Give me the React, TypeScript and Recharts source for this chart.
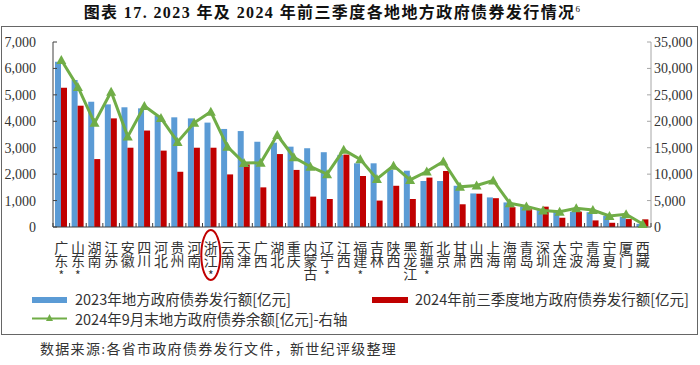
import React from 'react'
import { ComposedChart, Bar, Line, XAxis, YAxis } from 'recharts'

const PROVINCES = [
  '广东', '山东', '湖南', '江苏', '安徽', '四川', '河北', '贵州', '河南', '浙江',
  '云南', '天津', '广西', '湖北', '重庆', '内蒙古', '辽宁', '江西', '福建', '吉林',
  '陕西', '黑龙江', '新疆', '北京', '甘肃', '山西', '上海', '海南', '青岛', '深圳',
  '大连', '宁波', '青海', '宁夏', '厦门', '西藏',
]
// provinces marked with * under the label
const STARRED = ['广东', '山东', '浙江', '辽宁', '福建', '新疆']

// 2023 issuance, 亿元 (left axis)
const ISSUE_2023 = [
  6250, 5560, 4740, 4640, 4530, 4490, 4210, 4150, 4110, 3950,
  3710, 3630, 3230, 3190, 3040, 2980, 2830, 2730, 2410, 2410,
  2160, 2130, 1740, 1740, 1560, 1270, 1120, 930, 770, 640,
  580, 580, 560, 420, 390, 120,
]
// 2024 Q1-Q3 issuance, 亿元 (left axis)
const ISSUE_2024Q3 = [
  5270, 4590, 2570, 4110, 3000, 3650, 2890, 2090, 3000, 3000,
  1990, 2370, 1500, 2760, 2160, 1150, 1060, 2740, 1930, 1000,
  1560, 1060, 1870, 2120, 860, 1260, 1090, 750, 670, 770,
  350, 580, 250, 160, 300, 290,
]
// balance at end of Sep 2024, 亿元 (right axis)
const BALANCE_SEP24 = [
  31600, 26500, 19700, 25600, 17100, 22900, 20600, 16100, 19700, 21800,
  15200, 12100, 12150, 17400, 13200, 11400, 10000, 14600, 12800, 9100,
  11600, 8900, 10500, 12400, 7600, 7850, 8800, 4480, 3900, 3100,
  2900, 3540, 3220, 2100, 2400, 570,
]

const LEFT_TICKS = [0, 1000, 2000, 3000, 4000, 5000, 6000, 7000]
const RIGHT_TICKS = [0, 5000, 10000, 15000, 20000, 25000, 30000, 35000]

const rows = PROVINCES.map((name, i) => ({
  name,
  y2023: ISSUE_2023[i],
  y2024: ISSUE_2024Q3[i],
  balance: BALANCE_SEP24[i],
}))

const BLUE = '#5B9BD5'
const RED = '#C00000'
const GREEN = '#70AD47'
const TEXT = '#333333'
const SERIF = '"Liberation Serif", "Times New Roman", "Noto Sans CJK SC", serif'
const SANS = '"Noto Sans CJK SC", "Noto Sans", sans-serif'

const fmt = (v: number) => v.toLocaleString('en-US')

// plot runs x 53..651 with 36 categories
const BAND = 598 / PROVINCES.length

// labels are written top-to-bottom, one character per row
function ProvinceTick({ x, y, payload, index }: any) {
  const name = payload.value as string
  const starred = STARRED.includes(name)
  return (
    <g>
      <line x1={x - BAND / 2} x2={x - BAND / 2} y1={y} y2={y - 4} stroke="#404040" />
      {index === PROVINCES.length - 1 && (
        <line x1={x + BAND / 2} x2={x + BAND / 2} y1={y} y2={y - 4} stroke="#404040" />
      )}
      <text
        x={x}
        y={y + 14}
        fontFamily={SANS}
        fontSize={14}
        fill={TEXT}
        style={{ writingMode: 'vertical-rl', textOrientation: 'upright', letterSpacing: -1 }}
      >
        {name}
        {starred && <tspan fontSize={12} dy={2}>*</tspan>}
      </text>
      {name === '浙江' && (
        <ellipse cx={x} cy={y + 28} rx={9.5} ry={25} fill="none" stroke={RED} strokeWidth={2} />
      )}
    </g>
  )
}

function TriangleDot({ cx, cy, index }: any) {
  if (cx == null || cy == null) return <g key={index} />
  return (
    <polygon
      key={index}
      points={`${cx},${cy - 5} ${cx - 5},${cy + 4} ${cx + 5},${cy + 4}`}
      fill={GREEN}
    />
  )
}

const legendText: React.CSSProperties = {
  position: 'absolute',
  fontFamily: SANS,
  fontSize: 14.5,
  color: TEXT,
  lineHeight: '18px',
  whiteSpace: 'nowrap',
}

export default function App() {
  return (
    <div style={{ position: 'absolute', left: 0, top: 0, width: 700, height: 365, background: '#fff' }}>
      {/* title */}
      <div
        style={{
          position: 'absolute', left: 0, top: 0, width: 665, textAlign: 'center',
          fontFamily: SERIF, fontWeight: 'bold', fontSize: 16, letterSpacing: 1.4,
          lineHeight: '19px', color: '#111',
        }}
      >
        图表 17. 2023 年及 2024 年前三季度各地地方政府债券发行情况<sup style={{ fontSize: 9, fontWeight: 'normal' }}>6</sup>
      </div>

      {/* frame */}
      <div style={{ position: 'absolute', left: 1, top: 26, width: 695, height: 307, border: '1px solid #666' }} />

      <div style={{ position: 'absolute', left: 0, top: 0 }}>
        <ComposedChart
          width={700}
          height={300}
          data={rows}
          margin={{ top: 42, right: 0, bottom: 0, left: 0 }}
          barGap={0}
        >
          <XAxis
            dataKey="name"
            interval={0}
            height={73}
            tickSize={0}
            tickMargin={0}
            tickLine={false}
            axisLine={{ stroke: '#404040' }}
            tick={<ProvinceTick />}
          />
          <YAxis
            yAxisId="left"
            width={53}
            domain={[0, 7000]}
            ticks={LEFT_TICKS}
            tickFormatter={fmt}
            tickSize={-4}
            tickMargin={21}
            axisLine={{ stroke: '#404040' }}
            tickLine={{ stroke: '#404040' }}
            tick={{ fontSize: 14, fontFamily: SERIF, fill: TEXT }}
          />
          <YAxis
            yAxisId="right"
            orientation="right"
            width={49}
            domain={[0, 35000]}
            ticks={RIGHT_TICKS}
            tickFormatter={fmt}
            tickSize={-4}
            tickMargin={7}
            axisLine={{ stroke: '#a6a6a6' }}
            tickLine={{ stroke: '#a6a6a6' }}
            tick={{ fontSize: 14, fontFamily: SERIF, fill: TEXT, textAnchor: 'start' }}
          />
          <Bar yAxisId="left" dataKey="y2023" fill={BLUE} barSize={6} isAnimationActive={false} />
          <Bar yAxisId="left" dataKey="y2024" fill={RED} barSize={6} isAnimationActive={false} />
          <Line
            yAxisId="right"
            dataKey="balance"
            stroke={GREEN}
            strokeWidth={3}
            dot={<TriangleDot />}
            activeDot={false}
            isAnimationActive={false}
          />
        </ComposedChart>
      </div>

      {/* legend */}
      <div style={{ position: 'absolute', left: 32, top: 297, width: 35, height: 6, background: BLUE }} />
      <div style={{ ...legendText, left: 75, top: 290 }}>2023年地方政府债券发行额[亿元]</div>
      <div style={{ position: 'absolute', left: 372, top: 297, width: 36, height: 6, background: RED }} />
      <div style={{ ...legendText, left: 415, top: 290 }}>2024年前三季度地方政府债券发行额[亿元]</div>
      <svg style={{ position: 'absolute', left: 30, top: 312 }} width={40} height={12}>
        <line x1={2} x2={37} y1={6.5} y2={6.5} stroke={GREEN} strokeWidth={2} />
        <polygon points="19.5,2 16,9 23,9" fill={GREEN} />
      </svg>
      <div style={{ ...legendText, left: 75, top: 310 }}>2024年9月末地方政府债券余额[亿元]-右轴</div>

      {/* source */}
      <div
        style={{
          position: 'absolute', left: 40, top: 341, fontFamily: SERIF, fontSize: 14,
          letterSpacing: 1.3, color: TEXT, lineHeight: '18px', whiteSpace: 'nowrap',
        }}
      >
        数据来源:各省市政府债券发行文件，新世纪评级整理
      </div>
    </div>
  )
}
